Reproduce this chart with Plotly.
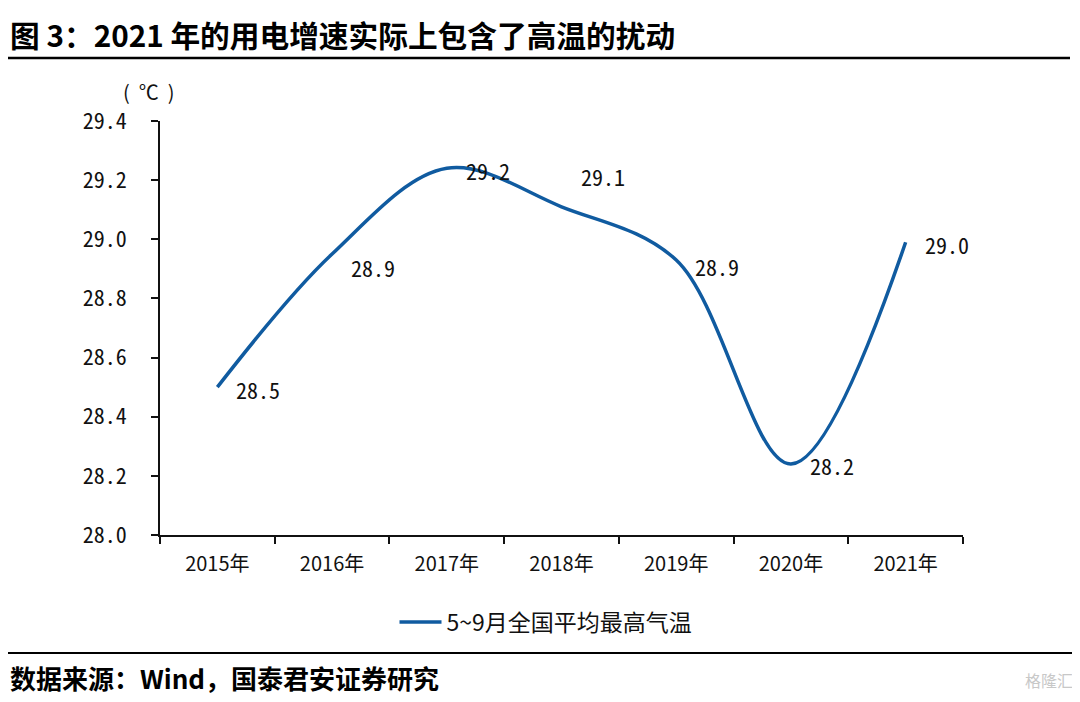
import plotly.graph_objects as go

categories = ["2015年", "2016年", "2017年", "2018年", "2019年", "2020年", "2021年"]
temps = [28.50, 28.95, 29.24, 29.11, 28.93, 28.24, 28.99]
labels = ["28.5", "28.9", "29.2", "29.1", "28.9", "28.2", "29.0"]
label_yshift = [-2, -13, -2, 31, -6, -1, -2]
series_name = "5~9月全国平均最高气温"
y_ticks = [28.0, 28.2, 28.4, 28.6, 28.8, 29.0, 29.2, 29.4]

FONT = "Noto Sans CJK SC"
NUM_FONT = "Noto Sans Mono CJK SC, DejaVu Sans Mono, monospace"
LINE_COLOR = "#105ba0"

# plot area in page pixels (page body has an 8px offset)
PL, PR, PT, PB = 160, 963, 121, 535
W = PR - PL
H = PB - PT


def px(x):
    return (x - PL) / W


def py(y):
    return (PB - y) / H


fig = go.Figure()
fig.add_trace(go.Scatter(
    x=categories, y=temps, mode="lines", name=series_name,
    line=dict(color=LINE_COLOR, width=3.5, shape="spline", smoothing=1.0),
    hoverinfo="skip",
))

for c, v, t, ys in zip(categories, temps, labels, label_yshift):
    fig.add_annotation(x=c, y=v, xref="x", yref="y", text=t, showarrow=False,
                       xanchor="left", yanchor="middle", xshift=17, yshift=ys,
                       font=dict(family=NUM_FONT, size=22, color="#111"))

fig.update_layout(
    width=1080, height=702,
    margin=dict(l=PL - 8, r=1080 - PR + 8, t=PT - 8, b=702 - PB + 8),
    paper_bgcolor="white", plot_bgcolor="white",
    showlegend=True,
    legend=dict(orientation="h", x=px(546), xanchor="center", y=py(622), yanchor="middle",
                font=dict(family=FONT, size=23, color="#111"), itemwidth=42,
                bgcolor="rgba(0,0,0,0)"),
    font=dict(family=FONT, color="#111"),
)

fig.update_xaxes(
    type="category", range=[-0.5, 6.5], showgrid=False, zeroline=False,
    showline=True, linecolor="#111", linewidth=1.8,
    ticks="outside", tickson="boundaries", ticklen=7, tickcolor="#111", tickwidth=1.5,
    tickfont=dict(family=FONT, size=20, color="#111"), ticklabelstandoff=10,
)
fig.update_yaxes(
    range=[28.0, 29.4], tickvals=y_ticks, ticktext=[f"{v:.1f}" for v in y_ticks],
    showgrid=False, zeroline=False,
    showline=True, linecolor="#111", linewidth=1.8,
    ticks="outside", ticklen=7, tickcolor="#111", tickwidth=1.5,
    tickfont=dict(family=NUM_FONT, size=22, color="#111"), ticklabelstandoff=20,
)

# unit label
fig.add_annotation(x=px(148), y=py(92), xref="paper", yref="paper", text="(  ℃  )",
                   showarrow=False, xanchor="center", yanchor="middle",
                   font=dict(family=FONT, size=20, color="#111"))

# title
fig.add_annotation(x=px(8), y=py(35), xref="paper", yref="paper",
                   xanchor="left", yanchor="middle", showarrow=False,
                   text="<b>图 3：2021 年的用电增速实际上包含了高温的扰动</b>",
                   font=dict(family=FONT, size=29.7, color="#000"))
# footer
fig.add_annotation(x=px(8), y=py(677), xref="paper", yref="paper",
                   xanchor="left", yanchor="middle", showarrow=False,
                   text="<b>数据来源：Wind，国泰君安证券研究</b>",
                   font=dict(family=FONT, size=26, color="#000"))
# watermark
fig.add_annotation(x=px(1075), y=py(680), xref="paper", yref="paper",
                   xanchor="right", yanchor="middle", showarrow=False,
                   text="格隆汇", font=dict(family=FONT, size=16, color="#c8c8c8"))

# separator lines
fig.add_shape(type="line", xref="paper", yref="paper",
              x0=px(8), x1=px(1070), y0=py(58), y1=py(58),
              line=dict(color="#000", width=2.5))
fig.add_shape(type="line", xref="paper", yref="paper",
              x0=px(5), x1=px(1072), y0=py(653), y1=py(653),
              line=dict(color="#000", width=2))

fig.write_html("out.html")
